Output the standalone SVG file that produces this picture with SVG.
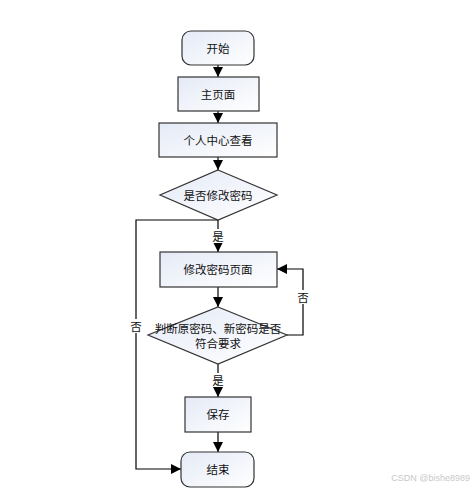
<svg xmlns="http://www.w3.org/2000/svg" width="476" height="490" viewBox="0 0 476 490">
<defs>
<linearGradient id="g" x1="0" y1="0" x2="1" y2="1">
<stop offset="0" stop-color="#e4eaf6"/>
<stop offset="1" stop-color="#ffffff"/>
</linearGradient>
<marker id="ah" viewBox="0 0 10 10" refX="10" refY="5" markerWidth="10" markerHeight="10" markerUnits="userSpaceOnUse" orient="auto">
<path d="M0,0 L10,5 L0,10 Z" fill="#000"/>
</marker>
<style>
.n{fill:url(#g);stroke:#333;stroke-width:1.2}
.t{font-family:"Noto Sans CJK SC","Liberation Sans",sans-serif;font-size:11.5px;fill:#111;text-anchor:middle;dominant-baseline:central}
.c{fill:none;stroke:#000;stroke-width:1.2;marker-end:url(#ah)}
.p{fill:none;stroke:#000;stroke-width:1.2}
.l{font-family:"Noto Sans CJK SC","Liberation Sans",sans-serif;font-size:11.5px;fill:#111;text-anchor:middle;dominant-baseline:central}
</style>
</defs>
<rect width="476" height="490" fill="#fff"/>
<g id="connectors">
<path class="c" d="M218,65 V77"/>
<path class="c" d="M218,111 V123"/>
<path class="c" d="M218,157 V170"/>
<path class="c" d="M218,220 V252"/>
<path class="c" d="M218,287 V307"/>
<path class="c" d="M218,364 V397"/>
<path class="c" d="M218,432 V452"/>
<path class="c" d="M218,220 H136 V469 H181"/>
<path class="c" d="M287,335 H303 V269 H277"/>
<rect x="209" y="229" width="18" height="14" fill="#fff"/>
<text class="l" x="218" y="236">是</text>
<rect x="209" y="373" width="18" height="14" fill="#fff"/>
<text class="l" x="218" y="380">是</text>
<rect x="295" y="290" width="16" height="14" fill="#fff"/>
<text class="l" x="303" y="297">否</text>
<rect x="128" y="319" width="16" height="14" fill="#fff"/>
<text class="l" x="136" y="326">否</text>
</g>
<g id="start">
<rect class="n" x="182" y="31" width="72" height="34" rx="9"/>
<text class="t" x="218" y="48">开始</text>
</g>
<g id="home">
<rect class="n" x="178" y="77" width="81" height="34"/>
<text class="t" x="218" y="94">主页面</text>
</g>
<g id="profile">
<rect class="n" x="159" y="123" width="118" height="34"/>
<text class="t" x="218" y="140">个人中心查看</text>
</g>
<g id="decide1">
<polygon class="n" points="218,170 277,195 218,220 160,195"/>
<text class="t" x="218" y="195">是否修改密码</text>
</g>
<g id="changepw">
<rect class="n" x="160" y="252" width="117" height="35"/>
<text class="t" x="218" y="269">修改密码页面</text>
</g>
<g id="decide2">
<polygon class="n" points="218,307 287,335 218,364 148,335"/>
<text class="t" x="218" y="328">判断原密码、新密码是否</text>
<text class="t" x="218" y="343">符合要求</text>
</g>
<g id="save">
<rect class="n" x="185" y="397" width="66" height="35"/>
<text class="t" x="218" y="414">保存</text>
</g>
<g id="end">
<rect class="n" x="181" y="452" width="73" height="35" rx="9"/>
<text class="t" x="218" y="469">结束</text>
</g>
<text x="470" y="478" font-family="Liberation Sans,sans-serif" font-size="9px" fill="#c8c8c8" text-anchor="end" dominant-baseline="central">CSDN @bishe8989</text>
</svg>
